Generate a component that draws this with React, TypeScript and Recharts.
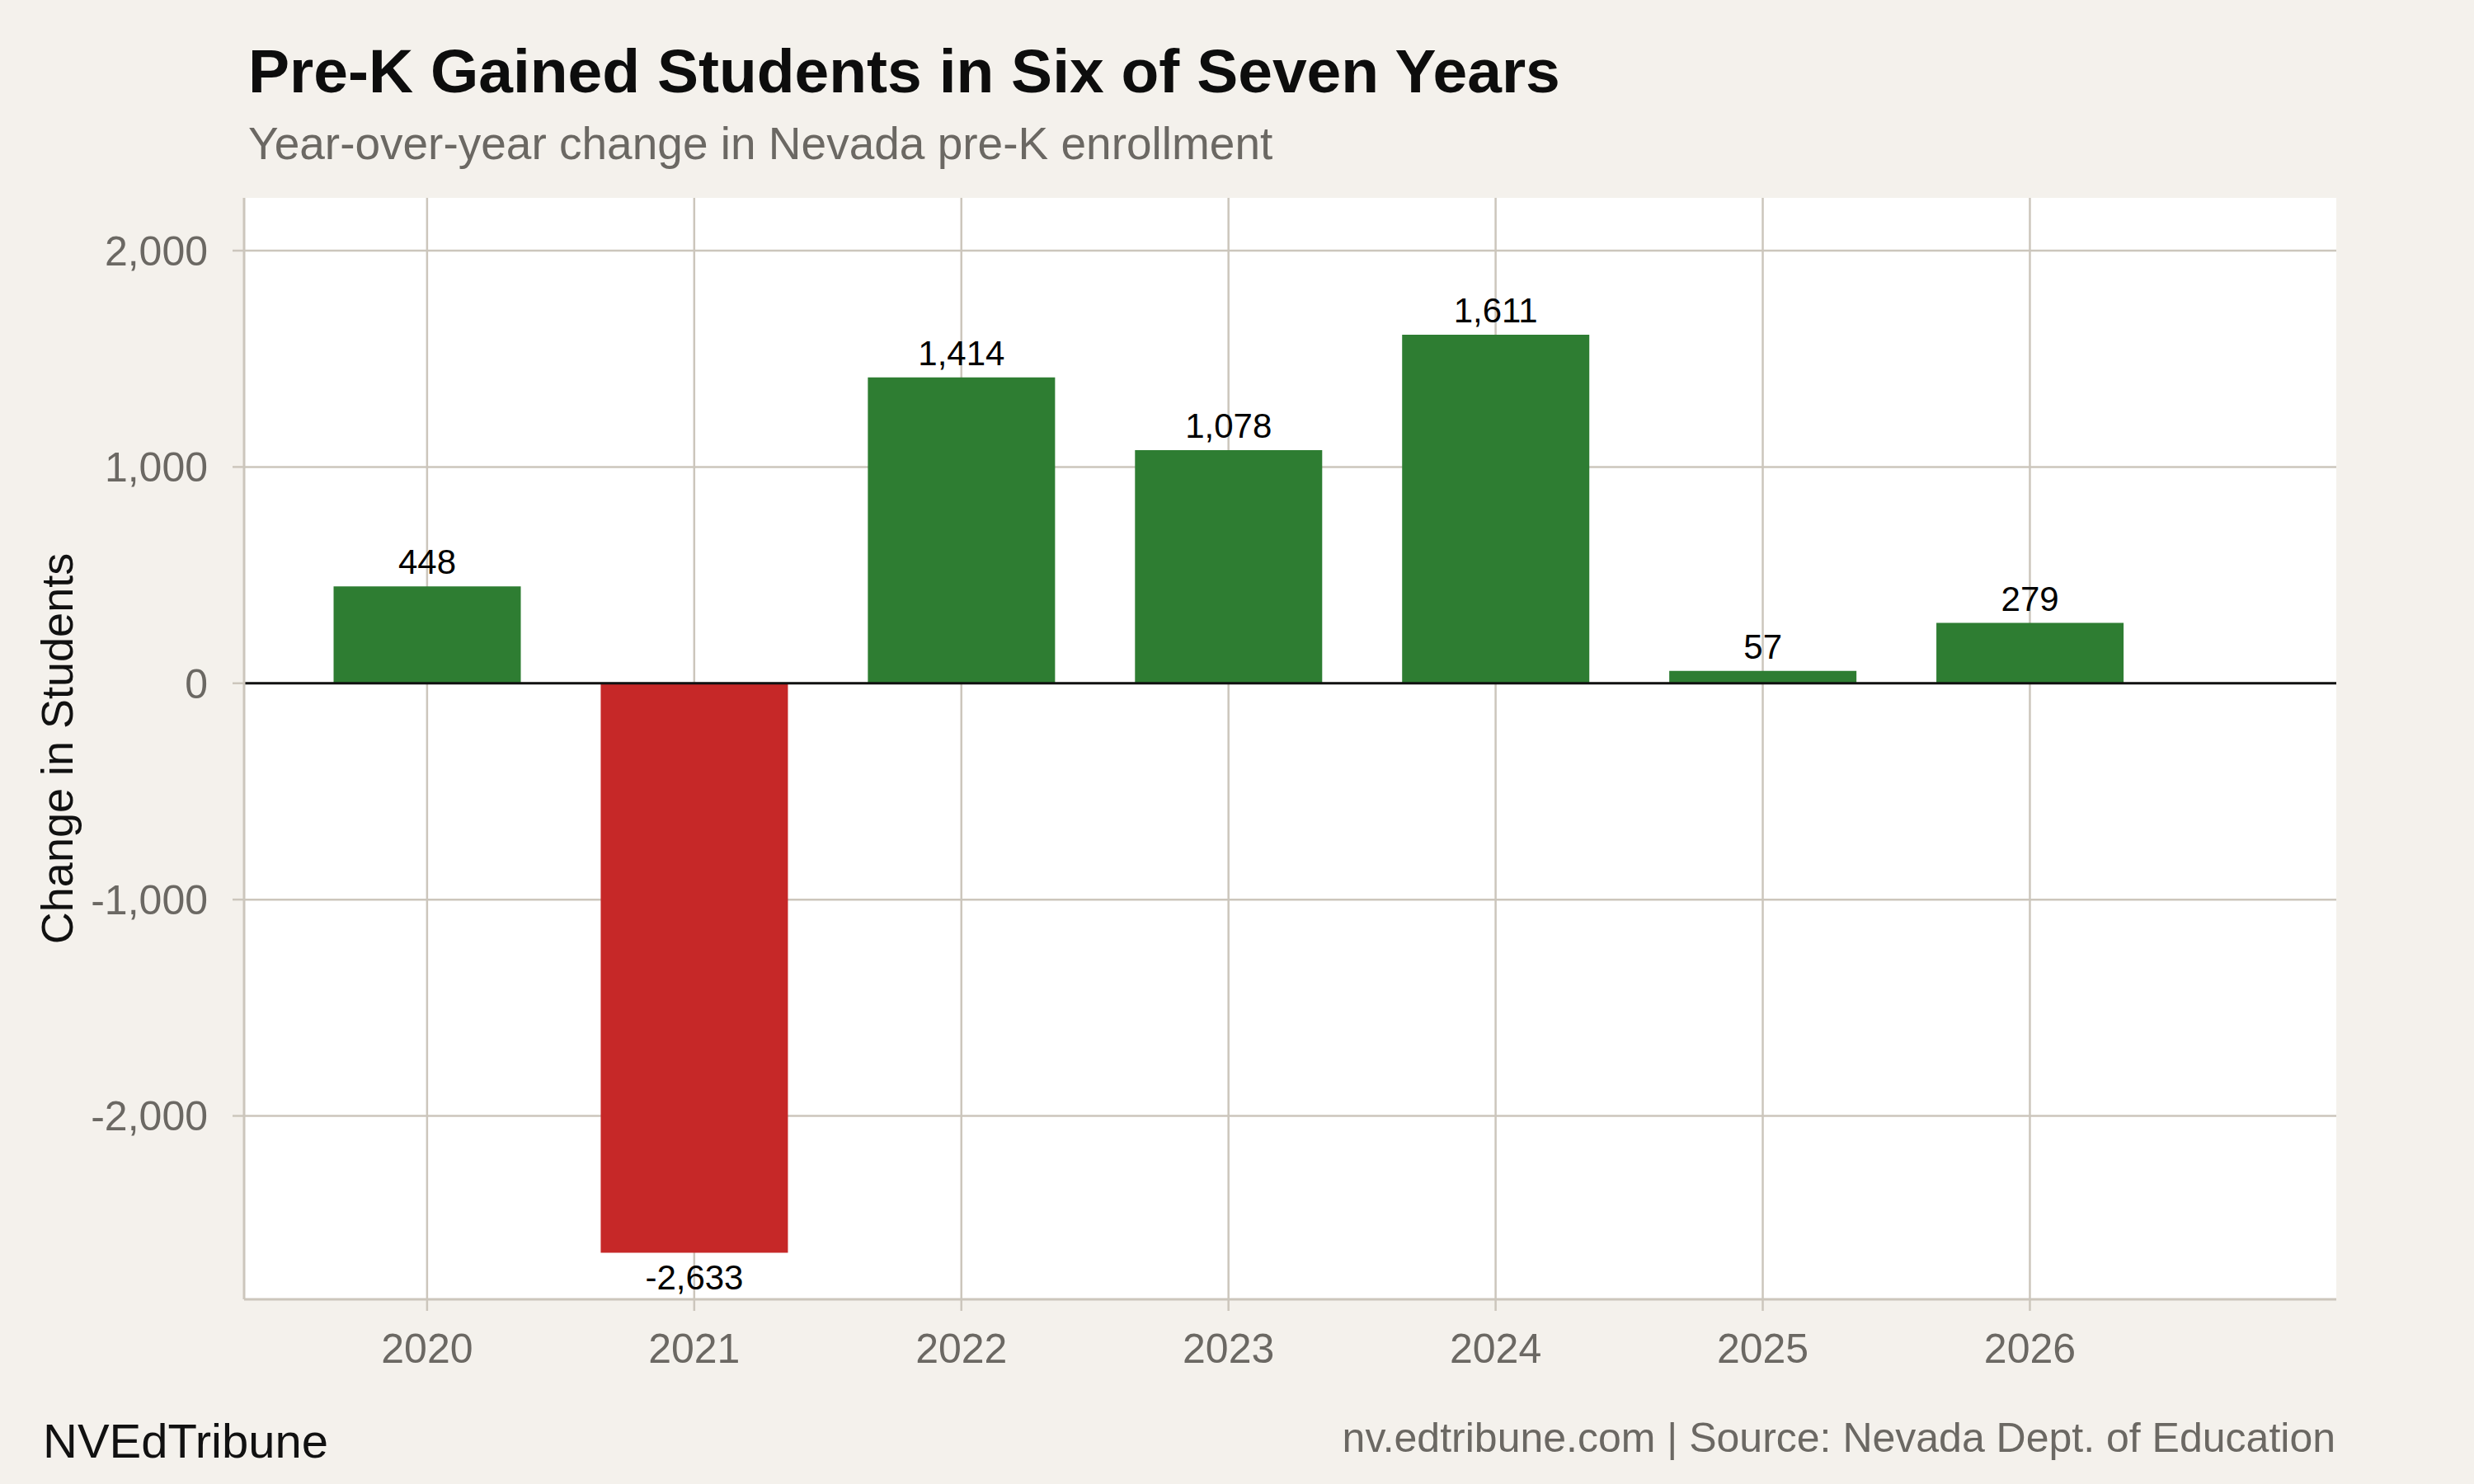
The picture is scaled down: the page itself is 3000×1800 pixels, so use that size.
import React from "react";
import {
  BarChart,
  Bar,
  Cell,
  XAxis,
  YAxis,
  CartesianGrid,
  ReferenceLine,
  LabelList,
} from "recharts";

const years = [2020, 2021, 2022, 2023, 2024, 2025, 2026];
const changes = [448, -2633, 1414, 1078, 1611, 57, 279];
const yTicks = [-2000, -1000, 0, 1000, 2000];

const data = years.map((year, i) => ({ year, change: changes[i] }));

const FONT = '"Liberation Sans", Arial, Helvetica, sans-serif';
const BG = "#f4f1ec";
const LINE = "#ccc6bc";
const MUTED = "#6b6863";
const GAIN = "#2e7d32";
const LOSS = "#c62828";

const fmt = (v: number) => v.toLocaleString("en-US");

// rotated y-axis title, centred on the plot area
function YTitle(props: any) {
  const vb = props.viewBox || {};
  const cy = vb.y + vb.height / 2;
  const x = 88;
  return (
    <text
      x={x}
      y={cy}
      transform={`rotate(-90, ${x}, ${cy})`}
      textAnchor="middle"
      fontFamily={FONT}
      fontSize={54}
      fill="#111"
    >
      Change in Students
    </text>
  );
}

export default function App() {
  return (
    <div
      style={{
        position: "absolute",
        left: 0,
        top: 0,
        width: 3000,
        height: 1800,
        background: BG,
        fontFamily: FONT,
      }}
    >
      <BarChart
        width={3000}
        height={1800}
        data={data}
        margin={{ top: 240, right: 167, bottom: 0, left: 0 }}
        barCategoryGap="15%"
      >
        <CartesianGrid
          fill="#ffffff"
          stroke={LINE}
          strokeWidth={2.5}
          horizontalValues={yTicks}
          verticalValues={years}
        />
        <XAxis
          dataKey="year"
          type="number"
          domain={[2019.315, 2027.147]}
          ticks={years}
          allowDataOverflow
          height={224}
          tickSize={14}
          tickMargin={27}
          axisLine={{ stroke: LINE, strokeWidth: 3 }}
          tickLine={{ stroke: LINE, strokeWidth: 2.5 }}
          tick={{ fill: MUTED, fontSize: 50, fontFamily: FONT }}
        />
        <YAxis
          type="number"
          domain={[-2848, 2244]}
          ticks={yTicks}
          allowDataOverflow
          width={296}
          tickSize={14}
          tickMargin={30}
          tickFormatter={fmt}
          axisLine={{ stroke: LINE, strokeWidth: 3 }}
          tickLine={{ stroke: LINE, strokeWidth: 2.5 }}
          tick={{ fill: MUTED, fontSize: 50, fontFamily: FONT }}
          label={<YTitle />}
        />
        <Bar dataKey="change" isAnimationActive={false}>
          {data.map((d) => (
            <Cell key={d.year} fill={d.change >= 0 ? GAIN : LOSS} />
          ))}
          <LabelList
            dataKey="change"
            position="top"
            offset={15}
            formatter={(v: any) => fmt(Number(v))}
            fill="#000"
            fontSize={42}
            fontFamily={FONT}
          />
        </Bar>
        <ReferenceLine y={0} stroke="#111" strokeWidth={3} />
      </BarChart>

      <svg
        width={3000}
        height={1800}
        style={{ position: "absolute", left: 0, top: 0, pointerEvents: "none" }}
      >
        <text x={301} y={112} fontFamily={FONT} fontWeight="bold" fontSize={75} fill="#0d0d0d">
          Pre-K Gained Students in Six of Seven Years
        </text>
        <text x={301} y={193} fontFamily={FONT} fontSize={55} fill={MUTED}>
          Year-over-year change in Nevada pre-K enrollment
        </text>
        <text x={52} y={1768} fontFamily={FONT} fontSize={58} fill="#111">
          NVEdTribune
        </text>
        <text x={2832} y={1761} textAnchor="end" fontFamily={FONT} fontSize={50} fill={MUTED}>
          nv.edtribune.com | Source: Nevada Dept. of Education
        </text>
      </svg>
    </div>
  );
}
